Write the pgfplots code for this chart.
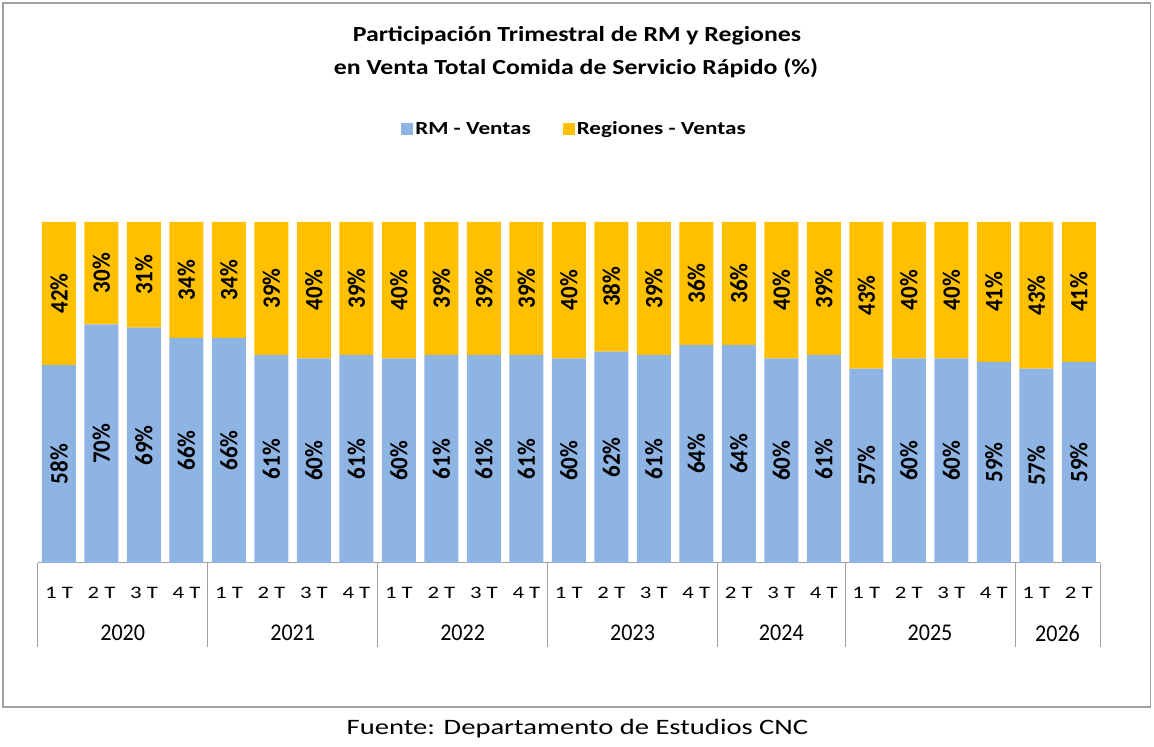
\documentclass[border=0pt]{standalone}
\usepackage{fontspec}
\setmainfont{Carlito}
\newfontfamily\qfont{Carlito}[FakeStretch=1.3]
\newfontfamily\titlefont{Carlito}[FakeStretch=1.2]
\newfontfamily\legfont{Carlito}[FakeStretch=1.25]
\newfontfamily\srcfont{Carlito}[FakeStretch=1.3]
\newfontfamily\yearfont{Carlito}[FakeStretch=0.92]
\newfontfamily\lblfont{Carlito}[FakeStretch=0.92]
\usepackage{pgfplots}
\usepackage{pgfplotstable}
\pgfplotsset{compat=1.18}
\definecolor{rmblue}{HTML}{8EB4E3}
\definecolor{regyellow}{HTML}{FFC000}
\definecolor{linegray}{HTML}{A0A0A0}

\pgfplotstableread{
x rm reg
0 58 42
1 70 30
2 69 31
3 66 34
4 66 34
5 61 39
6 60 40
7 61 39
8 60 40
9 61 39
10 61 39
11 61 39
12 60 40
13 62 38
14 61 39
15 64 36
16 64 36
17 60 40
18 61 39
19 57 43
20 60 40
21 60 40
22 59 41
23 57 43
24 59 41
}\data

\pgfplotsset{base/.style={at={(37.75pt,184pt)}, anchor=south west, scale only axis,
  width=1062.25pt, height=341pt, xmin=-0.5, xmax=24.5, ymin=0, ymax=100}}

\begin{document}
\begin{tikzpicture}
\path[use as bounding box] (0,0) rectangle (1154pt,747pt);
\draw[linegray, line width=1.2pt] (3pt,40pt) rectangle (1150.5pt,744pt);

\node[anchor=base, font=\titlefont\bfseries\fontsize{21.5}{24}\selectfont] at (577pt,705.3pt) {Participación Trimestral de RM y Regiones};
\node[anchor=base, font=\titlefont\bfseries\fontsize{21.5}{24}\selectfont] at (576pt,672pt) {en Venta Total Comida de Servicio Rápido (\%)};

\begin{axis}[base, ybar stacked, bar width=34pt,
  axis y line=none, ytick=\empty, axis x line*=bottom,
  x axis line style={-, draw=linegray, line width=1pt},
  xtick={-0.5,3.5,7.5,11.5,15.5,18.5,22.5,24.5}, xticklabels={},
  tick align=outside, major tick length=84pt,
  xtick style={draw=linegray, line width=1pt},
  legend style={draw=none, fill=none, at={(0.5053,1.2727)}, anchor=center,
    font=\legfont\bfseries\fontsize{18.5}{20}\selectfont, legend columns=2,
    /tikz/every even column/.append style={column sep=30pt}},
  legend image code/.code={\fill[#1, draw=none] (0pt,-6pt) rectangle (12pt,6pt);},
]
\addplot[fill=rmblue, draw=none] table[x=x, y=rm] {\data};
\addplot[fill=regyellow, draw=none] table[x=x, y=reg] {\data};
\legend{RM - Ventas, Regiones - Ventas}
\end{axis}

\begin{axis}[base, axis line style={draw=none}, ytick=\empty,
  xtick={0,...,24},
  xticklabels={1 T,2 T,3 T,4 T,1 T,2 T,3 T,4 T,1 T,2 T,3 T,4 T,1 T,2 T,3 T,4 T,2 T,3 T,4 T,1 T,2 T,3 T,4 T,1 T,2 T},
  major tick length=0pt,
  xticklabel style={anchor=center, yshift=-30pt, font=\qfont\fontsize{17.5}{19}\selectfont},
  /pgf/number format/assume math mode=true,
]
\addplot[only marks, mark=*, mark size=0pt, mark options={draw=none, fill=none},
  point meta=explicit,
  nodes near coords={\pgfmathprintnumber[assume math mode=true]{\pgfplotspointmeta}\%},
  every node near coord/.append style={rotate=90, anchor=center, text=black,
    font=\lblfont\bfseries\fontsize{25}{27}\selectfont}]
  table[x=x, y expr=\thisrow{rm}/2, meta=rm] {\data};
\addplot[only marks, mark=*, mark size=0pt, mark options={draw=none, fill=none},
  point meta=explicit,
  nodes near coords={\pgfmathprintnumber[assume math mode=true]{\pgfplotspointmeta}\%},
  every node near coord/.append style={rotate=90, anchor=center, text=black,
    font=\lblfont\bfseries\fontsize{25}{27}\selectfont}]
  table[x=x, y expr=\thisrow{rm}+\thisrow{reg}/2, meta=reg] {\data};
\end{axis}

\begin{axis}[base, axis line style={draw=none}, ytick=\empty,
  xtick={1.5,5.5,9.5,13.5,17,20.5,23.5},
  xticklabels={2020,2021,2022,2023,2024,2025,2026},
  major tick length=0pt,
  xticklabel style={anchor=center, yshift=-70pt, font=\yearfont\fontsize{24}{26}\selectfont},
]
\end{axis}

\node[anchor=base, font=\srcfont\fontsize{22}{26}\selectfont] at (577.5pt,12.7pt) {Fuente: Departamento de Estudios CNC};
\end{tikzpicture}
\end{document}
